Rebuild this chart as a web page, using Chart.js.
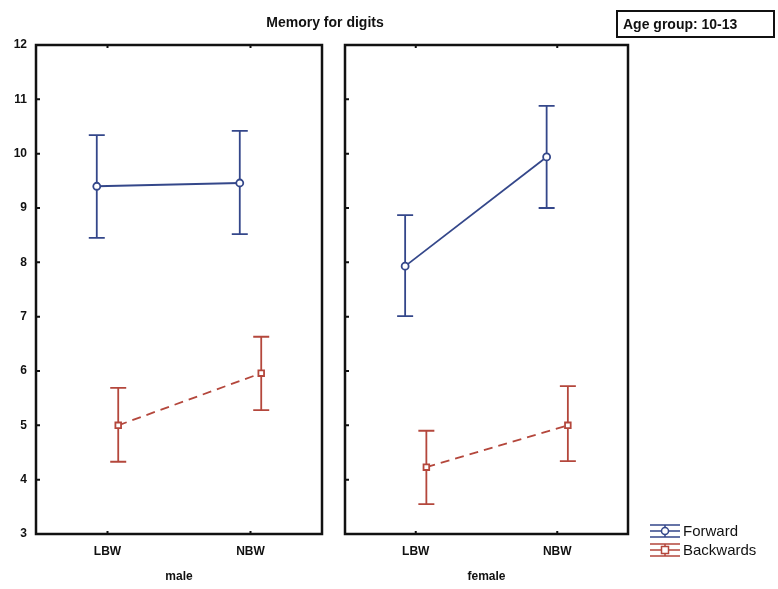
<!DOCTYPE html>
<html lang="en">
<head>
    <meta charset="UTF-8">
    <title>Memory for digits</title>
    <script src="https://cdn.jsdelivr.net/npm/chart.js"></script>
    <style>
        body {
            margin: 0;
            background: #fff;
            font-family: "Liberation Sans", Arial, sans-serif;
        }
        #page {
            position: relative;
            width: 778px;
            height: 589px;
            overflow: hidden;
        }
        .panel {
            position: absolute;
            top: 0;
            height: 589px;
        }
        #malePanel { left: 0; width: 333px; }
        #femalePanel { left: 333px; width: 445px; }
        #title {
            position: absolute;
            left: 225px;
            width: 200px;
            top: 14px;
            text-align: center;
            font-weight: bold;
            font-size: 14px;
            color: #111;
        }
        #ageBox {
            position: absolute;
            left: 616px;
            top: 10px;
            width: 150px;
            height: 24px;
            border: 2px solid #111;
            font-weight: bold;
            font-size: 14px;
            line-height: 24px;
            padding-left: 5px;
            color: #111;
        }
    </style>
</head>
<body>
<div id="page">
    <div class="panel" id="malePanel"><canvas id="maleChart"></canvas></div>
    <div class="panel" id="femalePanel"><canvas id="femaleChart"></canvas></div>
    <div id="title">Memory for digits</div>
    <div id="ageBox">Age group: 10-13</div>
</div>

<script>
    // birth weight groups and y ticks
    const categories = ['LBW', 'NBW'];
    const yTicks = [3, 4, 5, 6, 7, 8, 9, 10, 11, 12];

    // male: means with upper / lower error bar ends
    const maleForward = [9.40, 9.46];
    const maleForwardHi = [10.34, 10.42];
    const maleForwardLo = [8.45, 8.52];
    const maleBackwards = [5.00, 5.96];
    const maleBackwardsHi = [5.69, 6.63];
    const maleBackwardsLo = [4.33, 5.28];

    // female
    const femaleForward = [7.93, 9.94];
    const femaleForwardHi = [8.87, 10.88];
    const femaleForwardLo = [7.01, 9.00];
    const femaleBackwards = [4.23, 5.00];
    const femaleBackwardsHi = [4.90, 5.72];
    const femaleBackwardsLo = [3.55, 4.34];

    const blue = '#34478a';
    const red = '#b4473c';
    const FONT = '"Liberation Sans", Arial, sans-serif';
    const SHIFT = 0.15; // series are nudged apart so the bars don't overlap

    function points(values, dx) {
        return values.map((v, i) => ({ x: 1 + 2 * i + dx, y: v }));
    }

    // vertical error bars with caps, drawn under the markers
    const errorBars = {
        id: 'errorBars',
        beforeDatasetsDraw(chart) {
            const ctx = chart.ctx;
            const xs = chart.scales.x, ys = chart.scales.y;
            chart.data.datasets.forEach(ds => {
                ctx.save();
                ctx.strokeStyle = ds.borderColor;
                ctx.lineWidth = 1.8;
                ds.data.forEach((p, i) => {
                    const x = xs.getPixelForValue(p.x);
                    const top = ys.getPixelForValue(ds.hi[i]);
                    const bot = ys.getPixelForValue(ds.lo[i]);
                    ctx.beginPath();
                    ctx.moveTo(x, top); ctx.lineTo(x, bot);
                    ctx.moveTo(x - 8, top); ctx.lineTo(x + 8, top);
                    ctx.moveTo(x - 8, bot); ctx.lineTo(x + 8, bot);
                    ctx.stroke();
                });
                ctx.restore();
            });
        }
    };

    // heavy frame round the plot area plus small inner ticks
    const frame = {
        id: 'frame',
        afterDraw(chart) {
            const ctx = chart.ctx;
            const a = chart.chartArea;
            const xs = chart.scales.x, ys = chart.scales.y;
            ctx.save();
            ctx.strokeStyle = '#111';
            ctx.lineWidth = 2.5;
            ctx.strokeRect(a.left, a.top, a.right - a.left, a.bottom - a.top);
            ctx.lineWidth = 2;
            ctx.beginPath();
            yTicks.forEach(t => {
                const y = ys.getPixelForValue(t);
                ctx.moveTo(a.left, y); ctx.lineTo(a.left + 4, y);
            });
            categories.forEach((c, i) => {
                const x = xs.getPixelForValue(1 + 2 * i);
                ctx.moveTo(x, a.top); ctx.lineTo(x, a.top + 3);
                ctx.moveTo(x, a.bottom); ctx.lineTo(x, a.bottom - 3);
            });
            ctx.stroke();
            ctx.restore();
        }
    };

    // legend symbols: capped bar with a marker, then the series name
    const seriesLegend = {
        id: 'seriesLegend',
        afterDraw(chart) {
            if (!chart.options.plugins.seriesLegend.show) return;
            const ctx = chart.ctx;
            const x0 = 317, x1 = 347, cx = (x0 + x1) / 2;
            chart.data.datasets.forEach((ds, i) => {
                const y = 531 + i * 19;
                ctx.save();
                ctx.strokeStyle = ds.borderColor;
                ctx.lineWidth = 1.5;
                ctx.beginPath();
                [-6, 0, 6].forEach(d => { ctx.moveTo(x0, y + d); ctx.lineTo(x1, y + d); });
                ctx.moveTo(cx, y - 6); ctx.lineTo(cx, y + 6);
                ctx.stroke();
                ctx.fillStyle = '#fff';
                ctx.beginPath();
                if (ds.pointStyle === 'rect') {
                    ctx.rect(cx - 3.5, y - 3.5, 7, 7);
                } else {
                    ctx.arc(cx, y, 3.5, 0, Math.PI * 2);
                }
                ctx.fill();
                ctx.stroke();
                ctx.fillStyle = '#111';
                ctx.font = '15px ' + FONT;
                ctx.textBaseline = 'middle';
                ctx.fillText(ds.label, 350, y + 1);
                ctx.restore();
            });
        }
    };

    function makeChart(canvasId, group, fwd, fwdHi, fwdLo, bwd, bwdHi, bwdLo, leftAxis, padRight, legend) {
        return new Chart(document.getElementById(canvasId), {
            type: 'line',
            data: {
                datasets: [
                    {
                        label: 'Forward',
                        data: points(fwd, -SHIFT),
                        hi: fwdHi, lo: fwdLo,
                        borderColor: blue,
                        borderWidth: 1.8,
                        pointStyle: 'circle',
                        pointRadius: 3.5,
                        pointBorderWidth: 1.8,
                        pointBackgroundColor: '#fff',
                        pointBorderColor: blue
                    },
                    {
                        label: 'Backwards',
                        data: points(bwd, SHIFT),
                        hi: bwdHi, lo: bwdLo,
                        borderColor: red,
                        borderWidth: 1.8,
                        borderDash: [9, 6],
                        pointStyle: 'rect',
                        pointRadius: 4,
                        pointBorderWidth: 1.8,
                        pointBackgroundColor: '#fff',
                        pointBorderColor: red
                    }
                ]
            },
            options: {
                responsive: true,
                maintainAspectRatio: false,
                animation: false,
                layout: { padding: { top: 45, right: padRight, left: 0, bottom: 0 } },
                plugins: {
                    legend: { display: false },
                    tooltip: { enabled: false },
                    seriesLegend: { show: legend }
                },
                scales: {
                    x: {
                        type: 'linear',
                        min: 0,
                        max: 4,
                        grid: { display: false, drawTicks: false },
                        border: { display: false },
                        afterBuildTicks: s => { s.ticks = categories.map((c, i) => ({ value: 1 + 2 * i })); },
                        afterFit: s => { s.height = 55; },
                        ticks: {
                            padding: 10,
                            color: '#111',
                            font: { family: FONT, size: 12, weight: 'bold' },
                            callback: v => categories[(v - 1) / 2]
                        },
                        title: {
                            display: true,
                            text: group,
                            color: '#111',
                            padding: { top: 0, bottom: 5 },
                            font: { family: FONT, size: 12, weight: 'bold' }
                        }
                    },
                    y: {
                        min: 3,
                        max: 12,
                        grid: { display: false, drawTicks: false },
                        border: { display: false },
                        afterBuildTicks: s => { s.ticks = yTicks.map(v => ({ value: v })); },
                        afterFit: s => { s.width = leftAxis ? 36 : 12; },
                        ticks: {
                            display: leftAxis,
                            padding: 9,
                            color: '#111',
                            font: { family: FONT, size: 12, weight: 'bold' }
                        }
                    }
                }
            },
            plugins: [errorBars, frame, seriesLegend]
        });
    }

    makeChart('maleChart', 'male', maleForward, maleForwardHi, maleForwardLo,
        maleBackwards, maleBackwardsHi, maleBackwardsLo, true, 11, false);
    makeChart('femaleChart', 'female', femaleForward, femaleForwardHi, femaleForwardLo,
        femaleBackwards, femaleBackwardsHi, femaleBackwardsLo, false, 150, true);
</script>
</body>
</html>
